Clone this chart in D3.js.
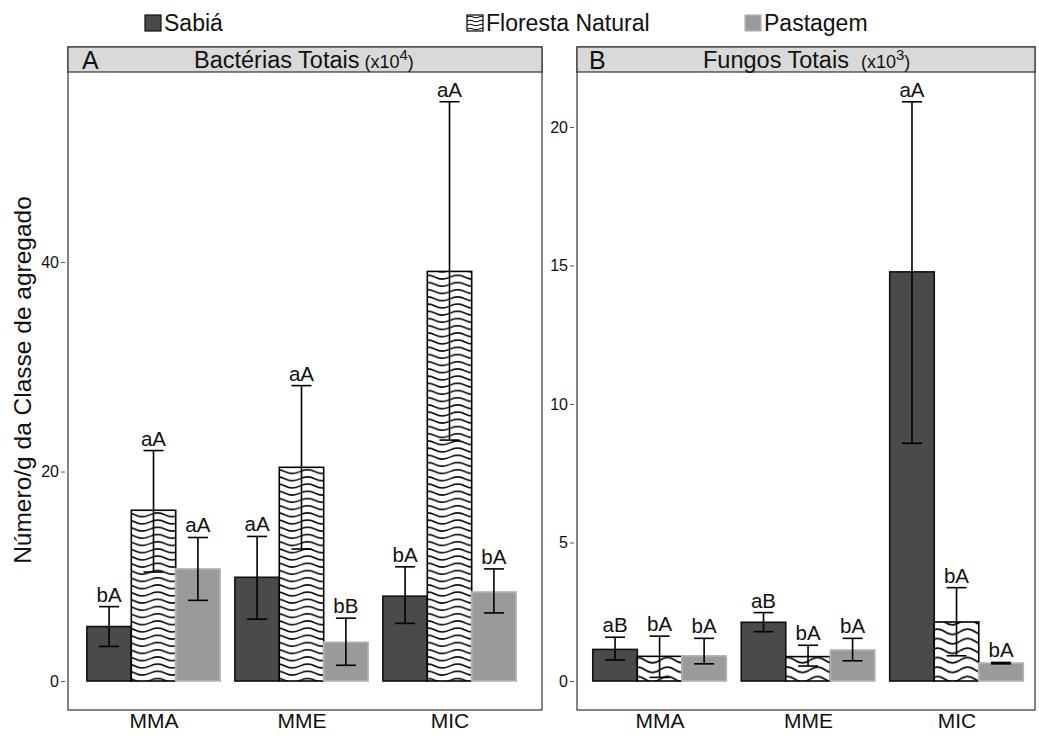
<!DOCTYPE html>
<html>
<head>
<meta charset="utf-8">
<script src="https://cdn.jsdelivr.net/npm/d3@7"></script>
<style>
  body { margin: 0; background: #fff; }
  text { font-family: "Liberation Sans", Arial, sans-serif; }
</style>
</head>
<body>
<svg id="chart" width="1039" height="736"></svg>
<script>
// categories and series
const categories = ["MMA", "MME", "MIC"];
const treatments = ["Sabiá", "Floresta Natural", "Pastagem"];

// Bactérias totais (x10^4) - one row per category, columns follow treatments
const bacMean = [[5.2, 16.3, 10.7], [9.9, 20.4, 3.7], [8.1, 39.1, 8.5]];
const bacLow = [[3.3, 10.4, 7.7], [5.9, 12.6, 1.5], [5.5, 23.0, 6.5]];
const bacHigh = [[7.1, 22.0, 13.7], [13.8, 28.2, 6.0], [10.9, 55.3, 10.7]];
const bacLetters = [["bA", "aA", "aA"], ["aA", "aA", "bB"], ["bA", "aA", "bA"]];
const bacTicks = [0, 20, 40];

// Fungos totais (x10^3)
const funMean = [[1.14, 0.89, 0.91], [2.12, 0.88, 1.12], [14.77, 2.13, 0.65]];
const funLow = [[0.76, 0.13, 0.62], [1.78, 0.54, 0.73], [8.58, 0.91, 0.62]];
const funHigh = [[1.58, 1.62, 1.54], [2.47, 1.29, 1.54], [20.91, 3.37, 0.67]];
const funLetters = [["aB", "bA", "bA"], ["aB", "bA", "bA"], ["aA", "bA", "bA"]];
const funTicks = [0, 5, 10, 15, 20];

const svg = d3.select('#chart');
const defs = svg.append('defs');

// wavy hatch used for Floresta Natural
function wavePattern(id, w, h, amp, sw) {
  const p = defs.append('pattern')
    .attr('id', id)
    .attr('patternUnits', 'userSpaceOnUse')
    .attr('width', w)
    .attr('height', h);
  p.append('rect').attr('width', w).attr('height', h).attr('fill', '#fff');
  const m = h / 2;
  p.append('path')
    .attr('d', `M0,${m} Q${w / 4},${m - 2 * amp} ${w / 2},${m} T${w},${m}`)
    .attr('fill', 'none')
    .attr('stroke', '#000')
    .attr('stroke-width', sw);
}
wavePattern('waveA', 30, 7.2, 1.9, 1.4);
wavePattern('waveB', 30, 9.5, 2.8, 1.6);
wavePattern('waveLeg', 12, 4, 0.8, 1);

const fills = ['#4a4a4a', null, '#9a9a9a'];
const strokes = ['#111', '#000', '#b5b5b5'];

const plotTop = 47, stripH = 25, plotBottom = 710;

function drawPanel(p) {
  const g = svg.append('g');

  const x = d3.scalePoint().domain(categories).range(p.xRange).padding(0.6);
  const inner = d3.scaleBand().domain(treatments).range([-x.step() * 0.45, x.step() * 0.45]);
  const y = d3.scaleLinear().domain(p.yDomain).range(p.yRange);

  // panel box + strip
  g.append('rect')
    .attr('x', p.x0).attr('y', plotTop)
    .attr('width', p.x1 - p.x0).attr('height', plotBottom - plotTop)
    .attr('fill', 'none').attr('stroke', '#333').attr('stroke-width', 1.2);
  g.append('rect')
    .attr('x', p.x0).attr('y', plotTop)
    .attr('width', p.x1 - p.x0).attr('height', stripH)
    .attr('fill', '#d9d9d9').attr('stroke', '#333').attr('stroke-width', 1.2);

  g.append('text').attr('x', p.letterX).attr('y', plotTop + 22)
    .attr('font-size', 25).attr('fill', '#111').text(p.letter);
  const t = g.append('text').attr('x', p.titleX).attr('y', plotTop + 21)
    .attr('font-size', 23.5).attr('fill', '#111');
  t.append('tspan').text(p.title);
  t.append('tspan').attr('font-size', 18).attr('dx', p.gap).text('(x10');
  t.append('tspan').attr('font-size', 15).attr('dy', -8).text(p.sup);
  t.append('tspan').attr('font-size', 18).attr('dy', 8).text(')');

  // y axis
  const ya = g.append('g')
    .attr('transform', `translate(${p.x0 - 3},0)`)
    .call(d3.axisLeft(y).tickValues(p.ticks).tickSize(4).tickPadding(2));
  ya.select('.domain').remove();
  ya.selectAll('line').attr('stroke', '#555');
  ya.selectAll('text').attr('font-size', 16).attr('fill', '#111')
    .style('font-family', '"Liberation Sans", Arial, sans-serif');

  // x axis
  const xa = g.append('g')
    .attr('transform', `translate(0,${plotBottom})`)
    .call(d3.axisBottom(x).tickSize(0).tickPadding(3));
  xa.select('.domain').remove();
  xa.selectAll('text').attr('font-size', 21).attr('fill', '#111')
    .style('font-family', '"Liberation Sans", Arial, sans-serif');

  // bars
  const rows = [];
  categories.forEach((c, i) => {
    treatments.forEach((tr, j) => {
      rows.push({ c, tr, j, mean: p.mean[i][j], low: p.low[i][j], high: p.high[i][j], lab: p.letters[i][j] });
    });
  });

  g.selectAll('rect.bar').data(rows).enter().append('rect')
    .attr('class', 'bar')
    .attr('x', d => x(d.c) + inner(d.tr))
    .attr('y', d => y(d.mean))
    .attr('width', inner.bandwidth())
    .attr('height', d => y(0) - y(d.mean))
    .attr('fill', d => d.j === 1 ? `url(#${p.wave})` : fills[d.j])
    .attr('stroke', d => strokes[d.j])
    .attr('stroke-width', 1.6);

  const cx = d => x(d.c) + inner(d.tr) + inner.bandwidth() / 2;
  const eb = g.selectAll('g.err').data(rows).enter().append('g').attr('class', 'err')
    .attr('stroke', '#000').attr('stroke-width', 1.6);
  eb.append('line').attr('x1', cx).attr('x2', cx).attr('y1', d => y(d.low)).attr('y2', d => y(d.high));
  eb.append('line').attr('x1', d => cx(d) - 10).attr('x2', d => cx(d) + 10)
    .attr('y1', d => y(d.high)).attr('y2', d => y(d.high));
  eb.append('line').attr('x1', d => cx(d) - 10).attr('x2', d => cx(d) + 10)
    .attr('y1', d => y(d.low)).attr('y2', d => y(d.low));

  g.selectAll('text.lab').data(rows).enter().append('text')
    .attr('class', 'lab')
    .attr('x', cx)
    .attr('y', d => y(d.high) - 5)
    .attr('text-anchor', 'middle')
    .attr('font-size', 20.5)
    .attr('fill', '#111')
    .text(d => d.lab);
}

drawPanel({
  x0: 68, x1: 542, xRange: [64.7, 538.3],
  yDomain: [0, 40], yRange: [681, 262], ticks: bacTicks,
  mean: bacMean, low: bacLow, high: bacHigh, letters: bacLetters,
  letter: 'A', letterX: 82, title: 'Bactérias Totais', titleX: 194, gap: 5, sup: '4',
  wave: 'waveA'
});
drawPanel({
  x0: 577, x1: 1035, xRange: [570.5, 1045.6],
  yDomain: [0, 20], yRange: [681, 127], ticks: funTicks,
  mean: funMean, low: funLow, high: funHigh, letters: funLetters,
  letter: 'B', letterX: 589, title: 'Fungos Totais', titleX: 703, gap: 12, sup: '3',
  wave: 'waveB'
});

// y title
svg.append('text')
  .attr('transform', 'translate(31,380) rotate(-90)')
  .attr('text-anchor', 'middle')
  .attr('font-size', 24.5)
  .attr('fill', '#111')
  .text('Número/g da Classe de agregado');

// legend
const legX = [145, 467, 745];
const leg = svg.selectAll('g.leg').data(treatments).enter().append('g')
  .attr('class', 'leg')
  .attr('transform', (d, i) => `translate(${legX[i]},15)`);
leg.append('rect')
  .attr('width', 16).attr('height', 16)
  .attr('fill', (d, i) => i === 1 ? 'url(#waveLeg)' : fills[i])
  .attr('stroke', (d, i) => strokes[i]).attr('stroke-width', 1.2);
leg.append('text')
  .attr('x', 19).attr('y', 16)
  .attr('font-size', 23).attr('fill', '#111')
  .text(d => d);
</script>
</body>
</html>
